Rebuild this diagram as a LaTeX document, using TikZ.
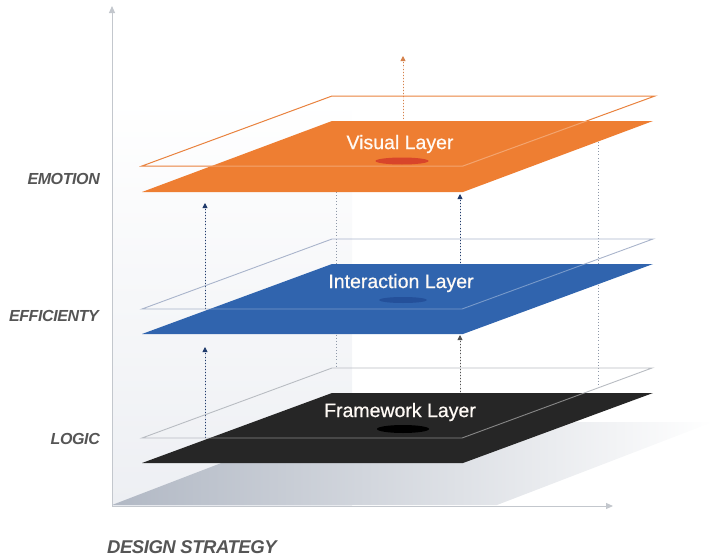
\documentclass[tikz,border=0pt]{standalone}
\usepackage{fontspec}
\setmainfont{Liberation Sans}
\newfontfamily\layfont[FakeBold=0.6]{Liberation Sans}
\newfontfamily\axfont[LetterSpace=-2.5]{Liberation Sans}
\usetikzlibrary{arrows.meta,shapes.geometric}
\definecolor{vorange}{HTML}{EE7E32}
\definecolor{vline}{HTML}{E9823E}
\definecolor{vdot}{HTML}{D8452A}
\definecolor{iblue}{HTML}{3064AE}
\definecolor{iline}{HTML}{A9B4CB}
\definecolor{idot}{HTML}{24509A}
\definecolor{fblack}{HTML}{262626}
\definecolor{fline}{HTML}{B8BCC2}
\definecolor{axisgray}{HTML}{C3C7CD}
\definecolor{labgray}{HTML}{555555}
\definecolor{navy}{HTML}{1F3A6B}
\definecolor{dotgray}{HTML}{8E98A8}
\definecolor{wallgray}{HTML}{EDEFF3}
\definecolor{floordark}{HTML}{B1B8C4}
\definecolor{floormid}{HTML}{CFD4DB}
\begin{document}
\begin{tikzpicture}[x=1pt,y=-1pt,
  axislab/.style={font=\axfont\fontsize{16}{18}\selectfont\bfseries\itshape, text=labgray, inner sep=0pt},
  layerlab/.style={font=\layfont\fontsize{19.5}{22}\selectfont, text=white!96!orange, inner sep=0pt},
  dotline/.style={line width=0.9pt, dash pattern=on 0.9pt off 2.2pt},
  tip/.style={-{Triangle[length=5pt,width=5pt]}},
  axisline/.style={draw=axisgray, line width=1pt, -{Triangle[length=7pt,width=6pt]}},
  hole/.style={ellipse, inner sep=0pt}
]
\useasboundingbox (0,0) rectangle (715,557);
% back wall
\shade[top color=white, bottom color=wallgray] (112,98) rectangle (352,505);
% floor
\shade[left color=floordark, middle color=floormid, right color=white] (112,505) -- (497,505) -- (713,422) -- (328,422) -- cycle;
% axes
\coordinate (o) at (112,506);
\coordinate (ytop) at (112,6);
\coordinate (xend) at (613,506);
\draw[axisline] (o) -- (ytop);
\draw[axisline] (o) -- (xend);
% dotted connectors
\coordinate (a1) at (403,119); \coordinate (a1t) at (403,56);
\coordinate (a2) at (205,309); \coordinate (a2t) at (205,203);
\coordinate (a3) at (205,438); \coordinate (a3t) at (205,347);
\coordinate (a4) at (336,192); \coordinate (a4t) at (336,368);
\coordinate (a5) at (460,309); \coordinate (a5t) at (460,194);
\coordinate (a6) at (460,438); \coordinate (a6t) at (460,335);
\coordinate (a7) at (598,142); \coordinate (a7t) at (598,386);
\draw[dotline, tip, draw=vline!80!gray, fill=vline] (a1) -- (a1t);
\draw[dotline, tip, draw=navy, fill=navy] (a2) -- (a2t);
\draw[dotline, tip, draw=navy, fill=navy] (a3) -- (a3t);
\draw[dotline, draw=dotgray] (a4) -- (a4t);
\draw[dotline, tip, draw=navy, fill=navy] (a5) -- (a5t);
\draw[dotline, tip, draw=fblack!80, fill=fblack] (a6) -- (a6t);
\draw[dotline, draw=dotgray] (a7) -- (a7t);
% Framework layer
\draw[fline, line width=0.9pt] (142,438) -- (332,368) -- (652,368) -- (462,438) -- cycle;
\fill[fblack] (142,463) -- (332,393) -- (653,393) -- (463,463) -- cycle;
\begin{scope}
\clip (142,463) -- (332,393) -- (653,393) -- (463,463) -- cycle;
\draw[white, opacity=0.45, line width=0.9pt] (142,438) -- (332,368) -- (652,368) -- (462,438) -- cycle;
\end{scope}
\node[hole, fill=black, minimum width=52pt, minimum height=8pt] (fh) at (403,429) {};
\node[layerlab] (fl) at (400,412) {Framework Layer};
% Interaction layer
\draw[iline, line width=0.9pt] (142,309) -- (332,239) -- (653,239) -- (462,309) -- cycle;
\fill[iblue] (142,334) -- (332,264) -- (653,264) -- (463,334) -- cycle;
\begin{scope}
\clip (142,334) -- (332,264) -- (653,264) -- (463,334) -- cycle;
\draw[white, opacity=0.35, line width=0.9pt] (142,309) -- (332,239) -- (653,239) -- (462,309) -- cycle;
\end{scope}
\node[hole, fill=idot, minimum width=48pt, minimum height=6pt] (ih) at (403,300) {};
\node[layerlab] (il) at (401,283) {Interaction Layer};
% Visual layer
\draw[vline, line width=1pt] (142,166) -- (332,96) -- (655,96) -- (463,166) -- cycle;
\fill[vorange] (142,192) -- (332,121) -- (653,121) -- (463,192) -- cycle;
\begin{scope}
\clip (142,192) -- (332,121) -- (653,121) -- (463,192) -- cycle;
\draw[white, opacity=0.3, line width=1pt] (142,166) -- (332,96) -- (655,96) -- (463,166) -- cycle;
\end{scope}
\node[hole, fill=vdot, minimum width=53pt, minimum height=7pt] (vh) at (402,161) {};
\node[layerlab] (vl) at (400,144) {Visual Layer};
% axis labels
\node[axislab, anchor=east] (emo) at (100,179) {EMOTION};
\node[axislab, anchor=east] (eff) at (99,316) {EFFICIENTY};
\node[axislab, anchor=east] (log) at (100,439) {LOGIC};
\node[axislab, anchor=west, font=\axfont\fontsize{18.5}{20}\selectfont\bfseries\itshape] (ds) at (107,547) {DESIGN STRATEGY};
\end{tikzpicture}
\end{document}
